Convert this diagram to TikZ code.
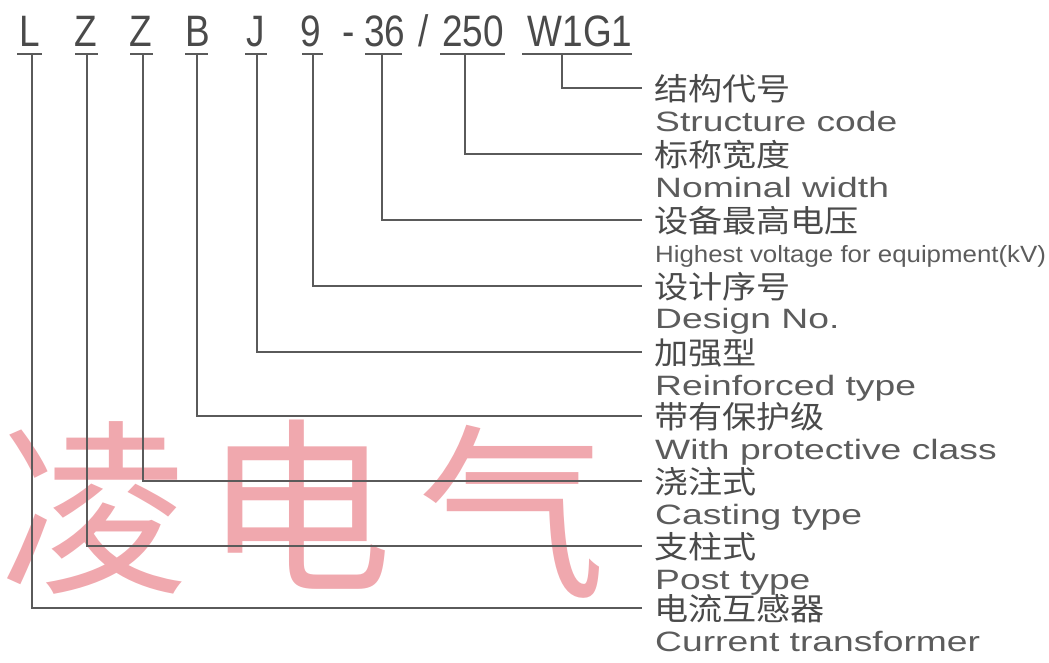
\documentclass[tikz,border=0pt]{standalone}
\usepackage{fontspec}
\newfontfamily\codefont[FakeStretch=0.84]{Liberation Sans}
\newfontfamily\enfont[FakeStretch=1.33]{Liberation Sans}
\newfontfamily\hvfont[FakeStretch=1.1]{Liberation Sans}
\newfontfamily\cjkfont[FakeStretch=1.1]{Noto Sans CJK SC}
\newfontfamily\wmfont{Noto Sans CJK SC}
\definecolor{ink}{HTML}{4A4A4A}
\definecolor{lineg}{HTML}{5A5A5A}
\definecolor{wm}{RGB}{240,168,174}
\tikzset{
  code/.style={anchor=base, inner sep=0pt, text=ink, font=\codefont\fontsize{44}{44}\selectfont},
  cn/.style={anchor=base west, inner sep=0pt, text=ink, font=\cjkfont\fontsize{31}{31}\selectfont},
  en/.style={anchor=base west, inner sep=0pt, text=ink!90, font=\enfont\fontsize{28}{28}\selectfont},
  hv/.style={anchor=base west, inner sep=0pt, text=ink!90, font=\hvfont\fontsize{23.5}{23.5}\selectfont},
  wmark/.style={anchor=center, inner sep=0pt, text=wm, font=\wmfont\fontsize{188}{188}\selectfont},
  lead/.style={draw=lineg, line width=1.6pt},
}
\begin{document}
\begin{tikzpicture}[x=1pt,y=-1pt]
\useasboundingbox (0,0) rectangle (1049,662);
% watermark
\node[wmark, anchor=west] (w1) at (0,508) {凌};
\node[wmark] (w2) at (298,505) {电};
\node[wmark] (w3) at (512,512) {气};
% code letters
\node[code] (cL) at (30,46) {L};
\node[code] (cZ1) at (86,46) {Z};
\node[code] (cZ2) at (141,46) {Z};
\node[code] (cB) at (198,46) {B};
\node[code] (cJ) at (256,46) {J};
\node[code] (c9) at (311,46) {9};
\node[code] (cdash) at (349,46) {-};
\node[code] (c36) at (385,46) {36};
\node[code] (cslash) at (424,46) {/};
\node[code] (c250) at (473,46) {250};
\node[code] (cW) at (580,46) {W1G1};
% underlines
\draw[lead] (17,54) -- (42,54);
\draw[lead] (75,54) -- (98,54);
\draw[lead] (130,54) -- (153,54);
\draw[lead] (185,54) -- (208,54);
\draw[lead] (245,54) -- (267,54);
\draw[lead] (302,54) -- (323,54);
\draw[lead] (365,54) -- (402,54);
\draw[lead] (440,54) -- (505,54);
\draw[lead] (522,54) -- (632,54);
% underline tap points
\coordinate (uW) at (562,54);
\coordinate (u250) at (465,54);
\coordinate (u36) at (382,54);
\coordinate (u9) at (313,54);
\coordinate (uJ) at (257,54);
\coordinate (uB) at (197,54);
\coordinate (uZ2) at (143,54);
\coordinate (uZ1) at (87,54);
\coordinate (uL) at (32,54);
% line ends
\coordinate (eW) at (642,88);
\coordinate (e250) at (642,154);
\coordinate (e36) at (642,220);
\coordinate (e9) at (642,286);
\coordinate (eJ) at (642,352);
\coordinate (eB) at (642,416);
\coordinate (eZ2) at (642,481);
\coordinate (eZ1) at (642,546);
\coordinate (eL) at (642,608);
% leaders
\draw[lead] (uW) |- (eW);
\draw[lead] (u250) |- (e250);
\draw[lead] (u36) |- (e36);
\draw[lead] (u9) |- (e9);
\draw[lead] (uJ) |- (eJ);
\draw[lead] (uB) |- (eB);
\draw[lead] (uZ2) |- (eZ2);
\draw[lead] (uZ1) |- (eZ1);
\draw[lead] (uL) |- (eL);
% labels
\node[cn] (nW) at (654,100) {结构代号};
\node[en] (tW) at (655,131) {Structure code};
\node[cn] (n250) at (654,166) {标称宽度};
\node[en] (t250) at (655,197) {Nominal width};
\node[cn] (n36) at (654,232) {设备最高电压};
\node[hv] (t36) at (655,262) {Highest voltage for equipment(kV)};
\node[cn] (n9) at (654,298) {设计序号};
\node[en] (t9) at (655,328) {Design No.};
\node[cn] (nJ) at (654,364) {加强型};
\node[en] (tJ) at (655,395) {Reinforced type};
\node[cn] (nB) at (654,428) {带有保护级};
\node[en] (tB) at (655,459) {With protective class};
\node[cn] (nZ2) at (654,493) {浇注式};
\node[en] (tZ2) at (655,524) {Casting type};
\node[cn] (nZ1) at (654,558) {支柱式};
\node[en] (tZ1) at (655,589) {Post type};
\node[cn] (nL) at (654,620) {电流互感器};
\node[en] (tL) at (655,651) {Current transformer};
\end{tikzpicture}
\end{document}
